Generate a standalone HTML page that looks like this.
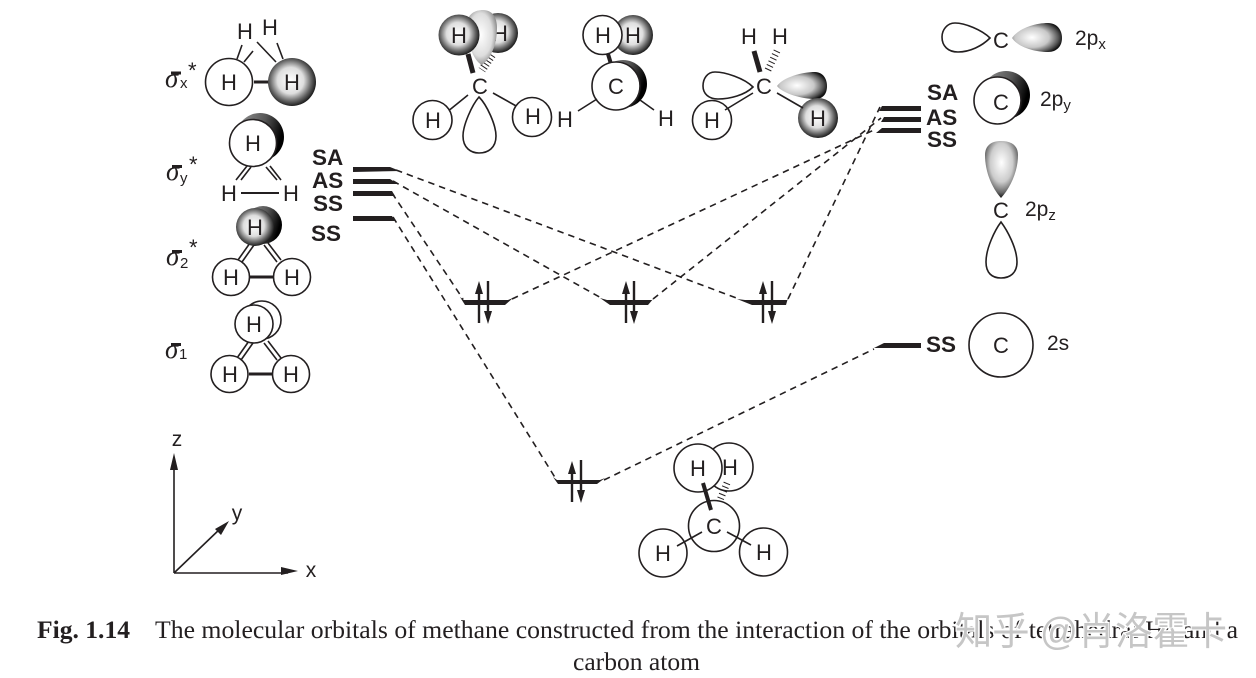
<!DOCTYPE html>
<html><head><meta charset="utf-8"><style>
html,body{margin:0;padding:0;background:#fff;width:1256px;height:678px;overflow:hidden}
svg{display:block}
text{font-family:"Liberation Sans",sans-serif;fill:#231f20}
.h{font-size:22px;text-anchor:middle}
.b{font-size:22.5px;font-weight:bold}
.o{font-size:21px}
.c{fill:#fff;stroke:#231f20;stroke-width:1.6}
.l{stroke:#231f20;stroke-width:1.6;fill:none}
.t{stroke:#231f20;stroke-width:3;fill:none}
.d{stroke:#231f20;stroke-width:1.6;fill:none;stroke-dasharray:6.5 5}
.a{stroke:#231f20;stroke-width:2.4}
.s{font-family:"Liberation Serif",serif;font-size:27px;font-style:italic}
.sb{font-size:15px}
.st{font-size:22px}
.cap{font-family:"Liberation Serif",serif;font-size:25px}
</style></head><body>
<svg width="1256" height="678" viewBox="0 0 1256 678" xmlns="http://www.w3.org/2000/svg">
<defs>
<radialGradient id="g" cx="0.47" cy="0.47" r="0.55"><stop offset="0" stop-color="#fff"/><stop offset="0.5" stop-color="#dedede"/><stop offset="0.78" stop-color="#666"/><stop offset="1" stop-color="#111"/></radialGradient>
<radialGradient id="gr" cx="0.4" cy="0.5" r="0.62"><stop offset="0" stop-color="#fff"/><stop offset="0.55" stop-color="#c8c8c8"/><stop offset="0.85" stop-color="#555"/><stop offset="1" stop-color="#111"/></radialGradient>
<radialGradient id="gv" cx="0.5" cy="0.38" r="0.62"><stop offset="0" stop-color="#fff"/><stop offset="0.55" stop-color="#ccc"/><stop offset="0.85" stop-color="#666"/><stop offset="1" stop-color="#111"/></radialGradient>
<radialGradient id="gm" cx="0.45" cy="0.45" r="0.65"><stop offset="0" stop-color="#fff"/><stop offset="0.6" stop-color="#ddd"/><stop offset="0.9" stop-color="#888"/><stop offset="1" stop-color="#333"/></radialGradient>
<linearGradient id="gl" x1="0" x2="1" y1="0" y2="0.6"><stop offset="0" stop-color="#eee"/><stop offset="0.6" stop-color="#ddd"/><stop offset="1" stop-color="#666"/></linearGradient>
<linearGradient id="gb" x1="0" x2="1" y1="0" y2="0.3"><stop offset="0" stop-color="#999"/><stop offset="0.6" stop-color="#555"/><stop offset="1" stop-color="#000"/></linearGradient>
</defs>

<!-- dashed connectors -->
<path class="d" d="M396,170 L739,299"/>
<path class="d" d="M393,181 L603,299"/>
<path class="d" d="M392,193 L463,299"/>
<path class="d" d="M393,217 L556,479"/>
<path class="d" d="M512,299 L876,129"/>
<path class="d" d="M653,299 L881,118"/>
<path class="d" d="M788,299 L880,107"/>
<path class="d" d="M604,480 L874,349"/>

<!-- left levels -->
<g fill="#231f20">
<polygon points="353,167 390,167 400,171 353,172"/>
<polygon points="353,179 390,179 398,184 353,184"/>
<polygon points="353,191 392,191 395,196 353,196"/>
<polygon points="353,216 392,216 395,221 353,221"/>
<polygon points="882,106 921,106 921,111 879,111"/>
<polygon points="884,117 921,117 921,122 881,122"/>
<polygon points="882,128 921,128 921,133 876,133"/>
<polygon points="884,343 921,343 921,348 874,348"/>
<polygon points="460,297 464,300 508,300 513,298 505,305 465,305"/>
<polygon points="600,298 607,300 652,300 654,298 648,305 610,305"/>
<polygon points="737,299 745,300 787,300 788,298 786,305 752,305"/>
<polygon points="553,477 557,480 600,480 605,478 597,484 558,484"/>
</g>

<!-- electron arrows -->
<g>
<path class="a" d="M479,323V290M488,281V314M626,323V290M634,281V314M763,323V290M772,281V314M572,502V470M581,460V493"/>
<path fill="#231f20" d="M479,281l4,13h-8zM488,324l4,-13h-8zM626,281l4,13h-8zM634,324l4,-13h-8zM763,281l4,13h-8zM772,324l4,-13h-8zM572,461l4,13h-8zM581,503l4,-13h-8z"/>
</g>

<!-- sigma x* -->
<text class="s" x="165" y="87">σ</text><rect x="171" y="71.500" width="10" height="3" fill="#231f20"/><text class="sb" x="180" y="88">x</text><text class="st" x="188" y="78">*</text>
<path class="l" d="M242,45L237,59M253,51L244,62M257,42L276,62M277,43L283,59"/>
<path class="t" d="M254,82H270"/>
<circle class="c" cx="229" cy="82" r="23.5"/>
<circle cx="292" cy="82" r="24" fill="url(#g)"/>
<text class="h" x="229" y="90">H</text><text class="h" x="292" y="90">H</text>
<text class="h" x="245" y="39">H</text><text class="h" x="270" y="35">H</text>

<!-- sigma y* -->
<text class="s" x="166" y="180">σ</text><rect x="172" y="165" width="10" height="3" fill="#231f20"/><text class="sb" x="180" y="183">y</text><text class="st" x="189" y="172">*</text>
<circle cx="260" cy="137" r="24" fill="url(#gb)"/>
<circle class="c" cx="253" cy="143" r="23.5"/>
<text class="h" x="253" y="151">H</text>
<path class="l" d="M236,180L247,166M241,180L251,167M270,166L281,180M266,167L277,180"/>
<text class="h" x="229" y="201">H</text><text class="h" x="291" y="201">H</text>
<path class="t" style="stroke-width:2" d="M241,193H279"/>

<!-- sigma 2* -->
<text class="s" x="166" y="265">σ</text><rect x="172" y="250" width="10" height="3" fill="#231f20"/><text class="sb" x="180" y="268">2</text><text class="st" x="189" y="255">*</text>
<path class="l" d="M238,260L250,243M242,262L254,245M268,243L281,260M264,245L277,262"/>
<circle cx="263" cy="225" r="19" fill="url(#gb)"/>
<circle cx="255" cy="227" r="19" fill="url(#g)"/>
<text class="h" x="255" y="235">H</text>
<path class="t" d="M250,277H273"/>
<circle class="c" cx="231" cy="277" r="18.5"/><circle class="c" cx="292" cy="277" r="18.5"/>
<text class="h" x="231" y="285">H</text><text class="h" x="292" y="285">H</text>

<!-- sigma 1 -->
<text class="s" x="165" y="358">σ</text><rect x="171" y="343" width="10" height="3" fill="#231f20"/><text class="sb" x="179" y="359">1</text>
<circle class="c" cx="262" cy="320" r="19"/>
<path class="l" d="M237,358L249,341M241,360L253,343M268,341L281,358M264,343L277,360"/>
<circle class="c" cx="254" cy="324" r="19"/>
<text class="h" x="254" y="332">H</text>
<path class="t" d="M249,374H273"/>
<circle class="c" cx="229.500" cy="374" r="18.500"/><circle class="c" cx="291" cy="374" r="18.500"/>
<text class="h" x="230" y="382">H</text><text class="h" x="291" y="382">H</text>

<!-- left labels -->
<text class="b" x="312" y="165">SA</text>
<text class="b" x="312" y="188">AS</text>
<text class="b" x="313" y="211">SS</text>
<text class="b" x="311" y="241">SS</text>

<!-- right labels -->
<text class="b" x="927" y="100">SA</text>
<text class="b" x="926" y="125">AS</text>
<text class="b" x="927" y="147">SS</text>
<text class="b" x="926" y="352">SS</text>

<!-- molecule 1 -->
<circle cx="498" cy="33" r="20" fill="url(#g)"/>
<text class="h" x="500" y="41">H</text>
<path d="M492,55L482,70" stroke="#231f20" stroke-width="8" stroke-dasharray="1 2.500" fill="none"/>
<path d="M482,65 C472,60 467,40 467,25 C467,14 475,10 483,10 C492,10 497,17 497,28 C497,45 491,58 482,65Z" fill="url(#gm)"/>
<circle cx="459" cy="35" r="20.500" fill="url(#g)"/>
<text class="h" x="459" y="43">H</text>
<path d="M468,54L473,73" class="t" style="stroke-width:5"/>
<text class="h" x="480" y="94">C</text>
<path class="l" d="M447,112L468,95M493,93L518,107"/>
<circle class="c" cx="432.500" cy="120" r="19.500"/><circle class="c" cx="532" cy="117" r="19.500"/>
<text class="h" x="433" y="128">H</text><text class="h" x="533" y="124">H</text>
<path class="c" d="M479,97 C472,105 463,125 463,136 C463,148 471,153 479,153 C488,153 496,148 496,136 C496,125 487,105 479,97Z"/>

<!-- molecule 2 -->
<circle cx="633" cy="35" r="20" fill="url(#g)"/>
<path class="t" style="stroke-width:4" d="M608,54L611,64"/>
<circle class="c" cx="602.500" cy="35" r="19.500"/>
<text class="h" x="603" y="43">H</text><text class="h" x="633" y="43">H</text>
<circle cx="623" cy="84" r="24" fill="url(#gb)"/>
<circle class="c" cx="616" cy="86" r="24"/>
<text class="h" x="616" y="94">C</text>
<path class="l" d="M578,111L597,99M640,100L654,110"/>
<text class="h" x="565" y="127">H</text><text class="h" x="666" y="126">H</text>

<!-- molecule 3 -->
<text class="h" x="749" y="44">H</text><text class="h" x="780" y="44">H</text>
<text class="h" x="764" y="94">C</text>
<path class="t" style="stroke-width:5" d="M754,51L760,72"/>
<path d="M777,51L767,72" stroke="#231f20" stroke-width="7" stroke-dasharray="1 3" fill="none"/>
<path class="c" d="M753,87 C744,78 725,72 715,72 C707,72 703,79 703,86 C703,94 709,99 718,99 C730,99 745,95 753,87Z"/>
<circle class="c" cx="712" cy="120" r="19.500"/>
<path d="M777,86 C783,77 803,72 815,72 C823,72 827,79 827,86 C827,94 823,99 815,99 C803,99 783,94 777,86Z" fill="url(#gr)"/>
<circle cx="818" cy="118" r="20" fill="url(#g)"/>
<path class="l" d="M725,110L753,93M777,93L803,108"/>
<text class="h" x="712" y="128">H</text><text class="h" x="818" y="126">H</text>

<!-- right atomic orbitals -->
<path class="c" d="M990,38 C982,30 965,23 955,23 C947,23 942,30 942,37 C942,46 948,52 958,52 C970,52 982,46 990,38Z"/>
<text class="h" x="1001" y="48">C</text>
<path d="M1012,38 C1018,29 1034,23 1048,23 C1057,23 1062,30 1062,38 C1062,46 1057,52 1048,52 C1034,52 1018,47 1012,38Z" fill="url(#gr)"/>
<text class="o" x="1075" y="45">2p<tspan font-size="15" dy="4">x</tspan></text>

<circle cx="1006" cy="95" r="24" fill="url(#gb)"/>
<circle class="c" cx="997.500" cy="100.500" r="23.500"/>
<text class="h" x="1001" y="110">C</text>
<text class="o" x="1040" y="106">2p<tspan font-size="15" dy="4">y</tspan></text>

<path d="M1001,198 C992,188 985,172 985,155 C985,146 991,141 1001,141 C1012,141 1018,146 1018,155 C1018,172 1010,188 1001,198Z" fill="url(#gv)"/>
<text class="h" x="1001" y="218">C</text>
<text class="o" x="1025" y="216">2p<tspan font-size="15" dy="4">z</tspan></text>
<path class="c" d="M1001,222 C995,230 986,248 986,262 C986,273 992,278 1001,278 C1010,278 1017,273 1017,262 C1017,248 1007,230 1001,222Z"/>

<circle class="c" cx="1001" cy="345" r="32"/>
<text class="h" x="1001" y="353">C</text>
<text class="o" x="1047" y="350">2s</text>

<!-- bottom methane -->
<circle class="c" cx="729" cy="467" r="24"/>
<circle class="c" cx="698" cy="468" r="24"/>
<text class="h" x="698" y="476">H</text><text class="h" x="730" y="475">H</text>
<circle class="c" cx="714" cy="526" r="25.500"/>
<path class="t" style="stroke-width:4" d="M703,483L711,510"/>
<path d="M727,483L720,500" stroke="#231f20" stroke-width="7" stroke-dasharray="1 3" fill="none"/>
<text class="h" x="714" y="534">C</text>
<circle class="c" cx="663" cy="553" r="24"/><circle class="c" cx="763.500" cy="552" r="24"/>
<path class="l" d="M677,546L702,532M727,532L751,545"/>
<text class="h" x="663" y="561">H</text><text class="h" x="764" y="560">H</text>

<!-- axes -->
<path class="l" d="M174,573V460M174,573H288M174,573L222,527"/>
<path fill="#231f20" d="M174,453l-4,17h8zM298,571l-17,-4v8zM229,521l-14,8 6,6z"/>
<text class="h" x="177" y="446" style="font-size:21px">z</text>
<text class="h" x="237" y="520" style="font-size:21px">y</text>
<text class="h" x="311" y="577" style="font-size:21px">x</text>

<!-- caption -->
<text class="cap" x="37" y="638" style="font-family:'Liberation Serif',serif;font-weight:bold" textLength="93" lengthAdjust="spacingAndGlyphs">Fig. 1.14</text>
<text class="cap" x="155" y="638" textLength="1083" lengthAdjust="spacingAndGlyphs">The molecular orbitals of methane constructed from the interaction of the orbitals of tetrahedral H4 and a</text>
<text class="cap" x="573" y="670" textLength="127" lengthAdjust="spacingAndGlyphs">carbon atom</text>

<!-- watermark -->
<text x="955" y="645" textLength="272" lengthAdjust="spacingAndGlyphs" style="font-family:'Liberation Sans','Noto Sans CJK SC',sans-serif;font-size:39px;fill:#c6c6c6;stroke:#fff;stroke-width:2.500px;paint-order:stroke">知乎 @肖洛霍卡</text>
</svg>
</body></html>
